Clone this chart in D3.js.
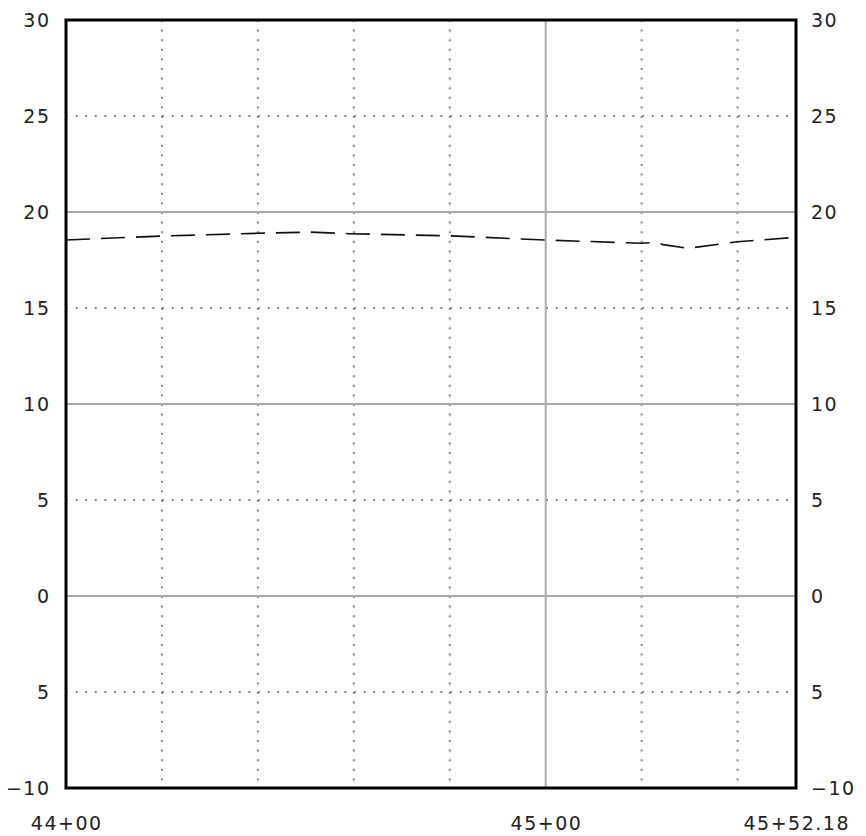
<!DOCTYPE html>
<html><head><meta charset="utf-8">
<script src="https://cdn.jsdelivr.net/npm/d3@7"></script>
<style>body{margin:0;background:#fff}</style>
</head><body>
<svg id="c" width="866" height="836"></svg>
<script>
const stations = [0, 20, 40, 51, 59, 80, 100, 120, 123, 124.5, 129.6, 140, 152.18];
const elevations = [18.54, 18.75, 18.89, 18.95, 18.87, 18.76, 18.54, 18.37, 18.42, 18.3, 18.11, 18.45, 18.68];
const yTicks = [-10, -5, 0, 5, 10, 15, 20, 25, 30];
const yLabels = ["−10", "5", "0", "5", "10", "15", "20", "25", "30"];
const yMajor = [0, 10, 20];
const xMinor = [20, 40, 60, 80, 120, 140];
const xMajor = [100];
const xTicks = [0, 100, 152.18];
const xLabels = ["44+00", "45+00", "45+52.18"];

const svg = d3.select("#c");
const L = 66, R = 796, T = 20, B = 788;
const x = d3.scaleLinear().domain([0, 152.18]).range([L, R]);
const y = d3.scaleLinear().domain([-10, 30]).range([B, T]);
const font = "DejaVu Sans, sans-serif";

// minor dotted grid
svg.append("g").selectAll("line").data(yTicks.filter(v => v % 10 !== 0)).join("line")
  .attr("x1", L).attr("x2", R).attr("y1", d => y(d)).attr("y2", d => y(d))
  .attr("stroke", "#888").attr("stroke-width", 2).attr("stroke-dasharray", "2,7.6");
svg.append("g").selectAll("line").data(xMinor).join("line")
  .attr("x1", d => x(d)).attr("x2", d => x(d)).attr("y1", T).attr("y2", B)
  .attr("stroke", "#888").attr("stroke-width", 2).attr("stroke-dasharray", "2,7.6");
// major solid grid
svg.append("g").selectAll("line").data(yMajor).join("line")
  .attr("x1", L).attr("x2", R).attr("y1", d => y(d)).attr("y2", d => y(d))
  .attr("stroke", "#aaa").attr("stroke-width", 2);
svg.append("g").selectAll("line").data(xMajor).join("line")
  .attr("x1", d => x(d)).attr("x2", d => x(d)).attr("y1", T).attr("y2", B)
  .attr("stroke", "#aaa").attr("stroke-width", 2);

// profile line
const line = d3.line().x((d, i) => x(stations[i])).y(d => y(d));
svg.append("path").datum(elevations).attr("d", line)
  .attr("fill", "none").attr("stroke", "#111").attr("stroke-width", 1.6)
  .attr("stroke-dasharray", "24,11");

// frame
svg.append("rect").attr("x", L).attr("y", T).attr("width", R - L).attr("height", B - T)
  .attr("fill", "none").attr("stroke", "#000").attr("stroke-width", 3);

// labels
const ls = 1.5, fs = 19;
svg.append("g").selectAll("text").data(yTicks).join("text")
  .attr("x", 49 + ls).attr("y", d => y(d)).attr("dy", "0.35em").attr("text-anchor", "end")
  .attr("font-family", font).attr("font-size", fs).attr("letter-spacing", ls).attr("fill", "#222")
  .text((d, i) => yLabels[i]);
svg.append("g").selectAll("text").data(yTicks).join("text")
  .attr("x", 811).attr("y", d => y(d)).attr("dy", "0.35em").attr("text-anchor", "start")
  .attr("font-family", font).attr("font-size", fs).attr("letter-spacing", ls).attr("fill", "#222")
  .text((d, i) => yLabels[i]);
svg.append("g").selectAll("text").data(xTicks).join("text")
  .attr("x", d => x(d) + ls / 2).attr("y", 830).attr("text-anchor", "middle")
  .attr("font-family", font).attr("font-size", fs).attr("letter-spacing", ls).attr("fill", "#222")
  .text((d, i) => xLabels[i]);
</script>
</body></html>
